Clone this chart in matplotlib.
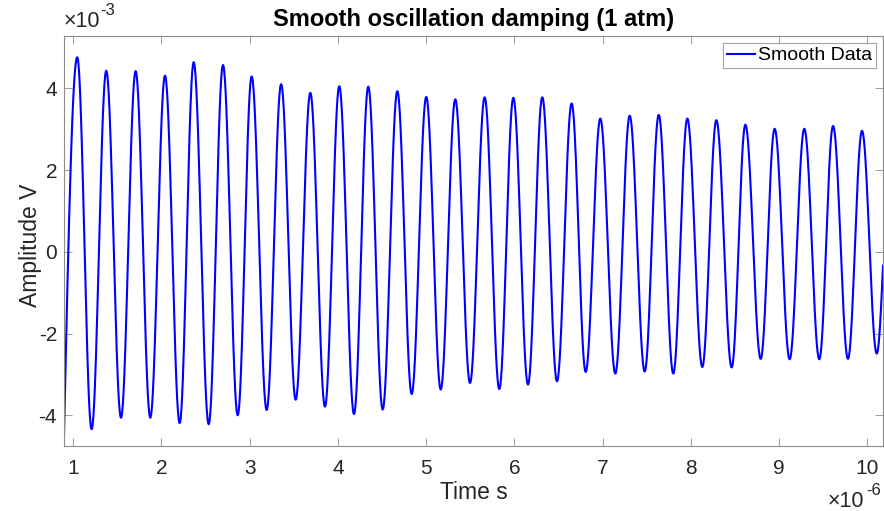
import numpy as np
import matplotlib
matplotlib.use("Agg")
import matplotlib.pyplot as plt

# ---- data (time in microseconds, amplitude in millivolts) ----
t_start, v_start = 0.895, -4.49
t_end, v_end = 10.18, -0.25
t_peaks = [1.045, 1.374, 1.707, 2.040, 2.365, 2.697, 3.022, 3.356, 3.687, 4.015,
           4.344, 4.673, 5.001, 5.330, 5.663, 5.988, 6.316, 6.649, 6.974, 7.307,
           7.636, 7.960, 8.289, 8.618, 8.950, 9.286, 9.612, 9.940]
v_peaks = [4.76, 4.43, 4.42, 4.31, 4.64, 4.57, 4.29, 4.10, 3.89, 4.05,
           4.04, 3.93, 3.79, 3.73, 3.78, 3.77, 3.78, 3.63, 3.26, 3.33,
           3.35, 3.26, 3.22, 3.11, 3.01, 3.01, 3.08, 2.96]
t_troughs = [1.208, 1.541, 1.873, 2.206, 2.535, 2.864, 3.192, 3.521, 3.853, 4.182,
             4.507, 4.836, 5.165, 5.497, 5.829, 6.154, 6.483, 6.808, 7.144, 7.477,
             7.801, 8.130, 8.463, 8.792, 9.120, 9.456, 9.781, 10.107]
v_troughs = [-4.34, -4.06, -4.06, -4.19, -4.22, -4.00, -3.87, -3.62, -3.79, -3.97,
             -3.86, -3.48, -3.37, -3.21, -3.36, -3.25, -3.17, -2.94, -2.98, -2.93,
             -2.98, -2.82, -2.83, -2.62, -2.63, -2.63, -2.62, -2.49]
x_ticks = [1, 2, 3, 4, 5, 6, 7, 8, 9, 10]
y_ticks = [-4, -2, 0, 2, 4]

# ---- build the smooth curve through the read extrema ----
ext_t = [t_start]
ext_v = [v_start]
for tp, vp, tt, vt in zip(t_peaks, v_peaks, t_troughs, v_troughs):
    ext_t += [tp, tt]
    ext_v += [vp, vt]
ext_t.append(t_end)
ext_v.append(v_end)

xs, ys = [], []
nseg = len(ext_t) - 1
for i in range(nseg):
    a_t, b_t = ext_t[i], ext_t[i + 1]
    a_v, b_v = ext_v[i], ext_v[i + 1]
    f = np.linspace(0, 1, 40, endpoint=(i == nseg - 1))
    if i == 0:
        shape = np.sin(np.pi / 2 * f)
    elif i == nseg - 1:
        shape = 1 - np.cos(np.pi / 2 * f)
    else:
        shape = (1 - np.cos(np.pi * f)) / 2
    xs.append(a_t + (b_t - a_t) * f)
    ys.append(a_v + (b_v - a_v) * shape)
xs = np.concatenate(xs)
ys = np.concatenate(ys)

# ---- figure ----
plt.rcParams['font.family'] = ['Liberation Sans', 'DejaVu Sans']
plt.rcParams['axes.unicode_minus'] = False

W, H = 884, 511
fig = plt.figure(figsize=(W / 100, H / 100), dpi=100)
ax_l, ax_r, ax_t, ax_b = 64, 883, 36, 445.5
ax = fig.add_axes([ax_l / W, 1 - ax_b / H, (ax_r - ax_l) / W, (ax_b - ax_t) / H])

ax.plot(xs, ys, color=(0, 0, 1), lw=1.5, label='Smooth Data')

ax.set_xlim(0.895, 10.178)
ax.set_ylim(-4.74, 5.28)
ax.set_xticks(x_ticks)
ax.set_yticks(y_ticks)
ax.set_xticklabels([str(v) for v in x_ticks])
ax.set_yticklabels([str(v) for v in y_ticks])

spine_col = '#8c8c8c'
txt_col = '#262626'
for s in ax.spines.values():
    s.set_color(spine_col)
    s.set_linewidth(0.8)
ax.tick_params(direction='in', length=6, width=0.6, color=spine_col,
               top=True, right=True, labelsize=15, labelcolor=txt_col)
ax.tick_params(axis='x', pad=10)
ax.tick_params(axis='y', pad=5)

ax.set_xlabel('Time s', fontsize=16.5, color=txt_col)
ax.set_ylabel('Amplitude V', fontsize=16.5, color=txt_col)
ax.xaxis.set_label_coords(0.5 + (473 - 473) / (ax_r - ax_l), -(481 - ax_b) / (ax_b - ax_t))
ax.yaxis.set_label_coords(-(64 - 42) / (ax_r - ax_l), 0.5 - (245 - 240.75) / (ax_b - ax_t))
ax.set_title('Smooth oscillation damping (1 atm)', fontsize=17, fontweight='bold',
             color='black', pad=7)

leg = ax.legend(loc='upper right', fontsize=14, frameon=True, fancybox=False,
                borderpad=0.2, handlelength=1.45, handletextpad=0.15,
                borderaxespad=0.36, edgecolor='#8c8c8c')
leg.get_frame().set_linewidth(0.8)
leg.get_frame().set_facecolor('white')

# exponent labels (MATLAB style)
fig.text(64 / W, 1 - 27 / H, '\u00d710', fontsize=15.5, color=txt_col, ha='left', va='baseline')
fig.text(100 / W, 1 - 15 / H, '-3', fontsize=12, color=txt_col, ha='left', va='baseline')
fig.text(828 / W, 1 - 507 / H, '\u00d710', fontsize=15.5, color=txt_col, ha='left', va='baseline')
fig.text(866 / W, 1 - 495 / H, '-6', fontsize=12, color=txt_col, ha='left', va='baseline')

fig.savefig('out.png', dpi=100)
